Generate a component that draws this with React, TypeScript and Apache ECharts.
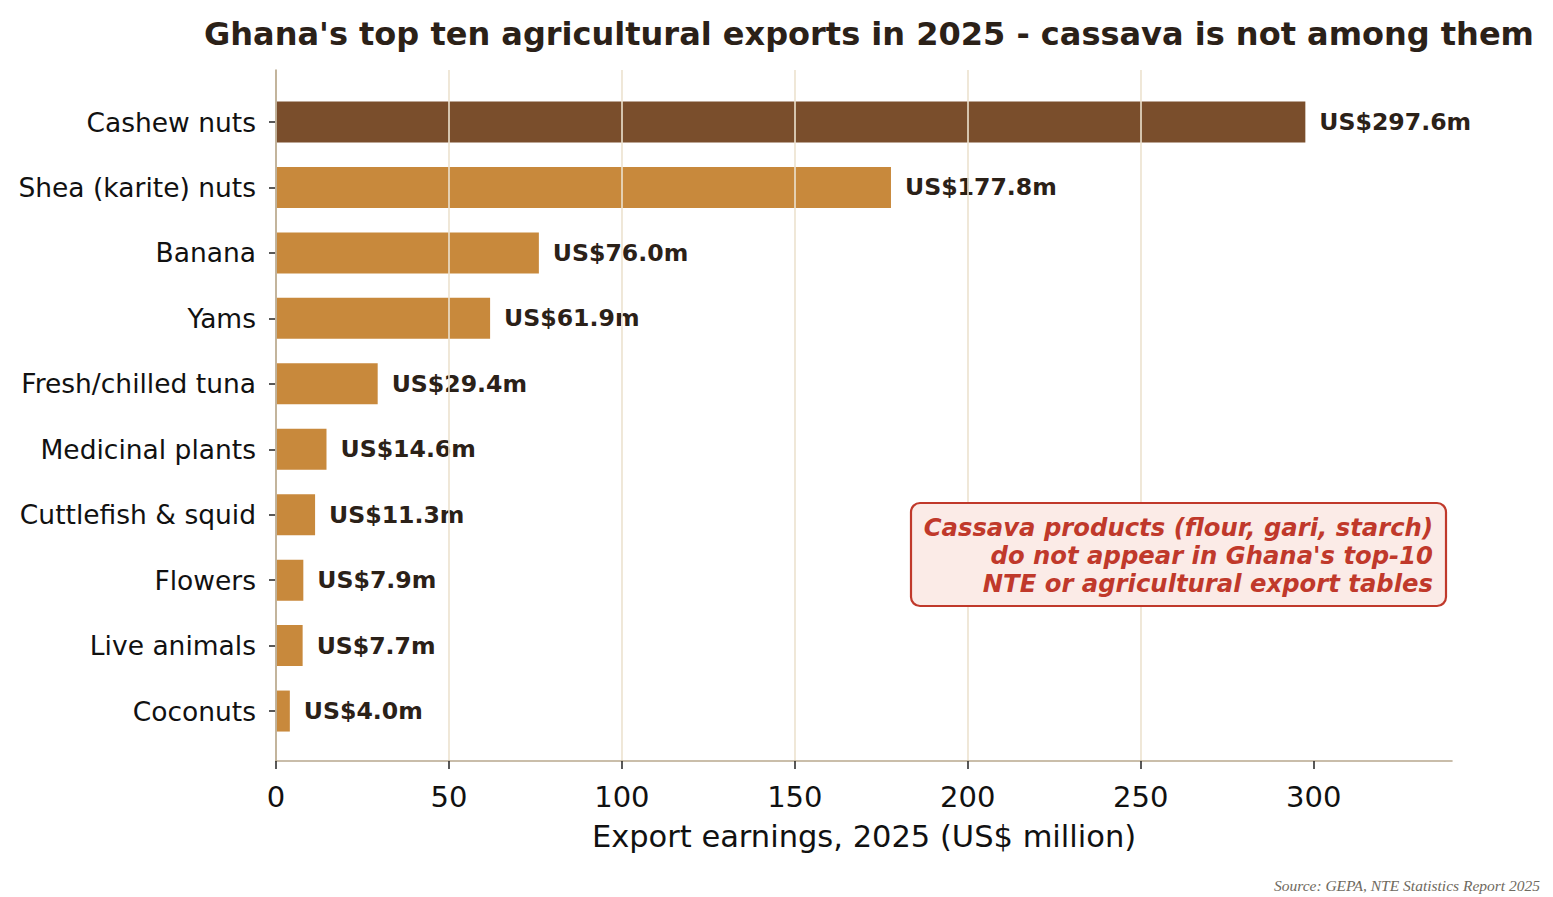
import React, { useEffect, useRef } from 'react';
import * as echarts from 'echarts';

const categories = [
  'Cashew nuts',
  'Shea (karite) nuts',
  'Banana',
  'Yams',
  'Fresh/chilled tuna',
  'Medicinal plants',
  'Cuttlefish & squid',
  'Flowers',
  'Live animals',
  'Coconuts'
];

const exportValues = [297.6, 177.8, 76.0, 61.9, 29.4, 14.6, 11.3, 7.9, 7.7, 4.0];

const xTicks = [0, 50, 100, 150, 200, 250, 300];
const xRange = { min: 0, max: 340, interval: 50 };

const noteLines = [
  'Cassava products (flour, gari, starch)',
  "do not appear in Ghana's top-10",
  'NTE or agricultural export tables'
];

const FONT = "'DejaVu Sans', sans-serif";
const DARK_BAR = '#7a4e2c';
const BAR = '#c8893c';

const App = () => {
  const chartRef = useRef<HTMLDivElement>(null);

  useEffect(() => {
    if (!chartRef.current) return;
    const chart = echarts.init(chartRef.current, null, { renderer: 'svg' });

    const plot = { left: 276, top: 70, width: 1176, height: 691 };
    const band = 65.45;
    const barGrid = {
      left: plot.left,
      width: plot.width,
      top: 122 - band / 2,
      height: band * categories.length
    };

    const option = {
      animation: false,
      backgroundColor: '#ffffff',
      textStyle: { fontFamily: FONT },
      title: {
        text: "Ghana's top ten agricultural exports in 2025 - cassava is not among them",
        left: 864,
        top: 13,
        textAlign: 'center',
        textStyle: { fontFamily: FONT, fontSize: 32, fontWeight: 'bold', color: '#2b2118' }
      },
      grid: [
        { ...plot, containLabel: false },
        { ...barGrid, containLabel: false }
      ],
      xAxis: [
        {
          type: 'value',
          gridIndex: 0,
          min: xRange.min,
          max: xRange.max,
          interval: xRange.interval,
          z: 3,
          name: 'Export earnings, 2025 (US$ million)',
          nameLocation: 'middle',
          nameGap: 60,
          nameTextStyle: { fontFamily: FONT, fontSize: 30.5, color: '#111' },
          axisLine: { show: true, lineStyle: { color: '#b8a88e', width: 1.6 } },
          axisTick: {
            show: true,
            length: 8,
            customValues: xTicks,
            lineStyle: { color: '#222', width: 1.5 }
          },
          axisLabel: {
            fontFamily: FONT,
            fontSize: 29,
            color: '#111',
            margin: 21,
            customValues: xTicks,
            formatter: (v: number) => (v > 300 ? '' : String(v))
          },
          splitLine: {
            show: true,
            showMaxLine: false,
            lineStyle: { color: '#ece2cf', width: 1.6 }
          }
        },
        {
          type: 'value',
          gridIndex: 1,
          min: xRange.min,
          max: xRange.max,
          show: false
        }
      ],
      yAxis: [
        {
          type: 'value',
          gridIndex: 0,
          min: 0,
          max: 1,
          z: 3,
          axisLine: { show: true, lineStyle: { color: '#b8a88e', width: 1.6 } },
          axisTick: { show: false },
          axisLabel: { show: false },
          splitLine: { show: false }
        },
        {
          type: 'category',
          gridIndex: 1,
          inverse: true,
          data: categories,
          axisLine: { show: false },
          axisTick: { show: true, alignWithLabel: true, length: 7, lineStyle: { color: '#222', width: 1.5 } },
          axisLabel: { fontFamily: FONT, fontSize: 26.5, color: '#111', margin: 20 },
          splitLine: { show: false }
        }
      ],
      series: [
        {
          type: 'bar',
          xAxisIndex: 1,
          yAxisIndex: 1,
          barWidth: 41,
          data: exportValues.map((v, i) => ({
            value: v,
            itemStyle: { color: i === 0 ? DARK_BAR : BAR }
          })),
          label: {
            show: true,
            position: 'right',
            distance: 14,
            formatter: (p: any) => `US$${Number(p.value).toFixed(1)}m`,
            fontFamily: FONT,
            fontSize: 23.6,
            fontWeight: 'bold',
            color: '#2b2118'
          }
        }
      ],
      graphic: [
        {
          type: 'rect',
          z: 10,
          shape: { x: 911, y: 503, width: 535, height: 103, r: 9 },
          style: { fill: '#fbebe7', stroke: '#c0392b', lineWidth: 2.2 }
        },
        {
          type: 'text',
          z: 11,
          x: 1433,
          y: 555,
          style: {
            text: noteLines.join('\n'),
            align: 'right',
            verticalAlign: 'middle',
            lineHeight: 28,
            fontFamily: FONT,
            fontSize: 24.3,
            fontWeight: 'bold',
            fontStyle: 'italic',
            fill: '#c0392b'
          }
        },
        {
          type: 'text',
          x: 1540,
          y: 885,
          style: {
            text: 'Source: GEPA, NTE Statistics Report 2025',
            align: 'right',
            verticalAlign: 'middle',
            fontFamily: "'Liberation Serif', serif",
            fontSize: 15.5,
            fontStyle: 'italic',
            fill: '#6f6a60'
          }
        }
      ]
    };

    chart.setOption(option);

    const handleResize = () => chart.resize();
    window.addEventListener('resize', handleResize);
    return () => {
      window.removeEventListener('resize', handleResize);
      chart.dispose();
    };
  }, []);

  return (
    <div
      ref={chartRef}
      style={{ position: 'absolute', left: 0, top: 0, width: 1553, height: 897, background: '#fff' }}
    />
  );
};

export default App;
